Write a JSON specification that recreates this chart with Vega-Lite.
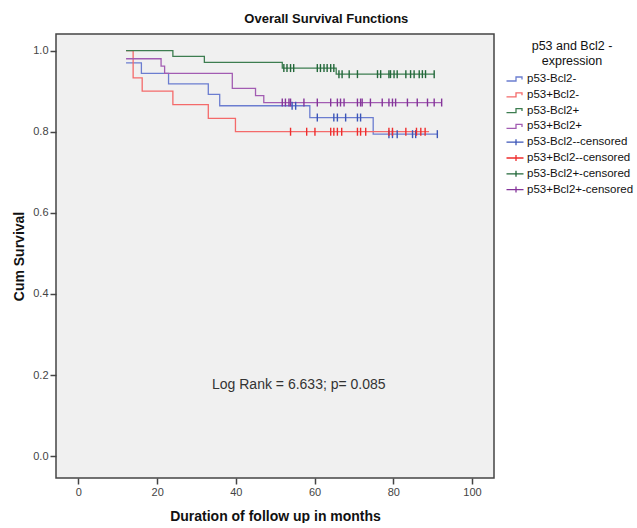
{
  "$schema": "https://vega.github.io/schema/vega-lite/v6.json",
  "width": 438,
  "height": 444,
  "padding": {"left": 12, "top": 13, "right": 0, "bottom": 0},
  "background": "white",
  "title": {"text": "Overall Survival Functions", "font": "Liberation Sans", "fontWeight": "bold", "fontSize": 13, "anchor": "middle", "frame": "bounds", "offset": 8, "color": "#111"},
  "config": {
    "view": {"fill": "#f0f0f0", "stroke": "#444", "strokeWidth": 1.5},
    "axis": {"grid": false, "domain": false, "tickColor": "#444", "tickSize": 6, "tickWidth": 1.5, "labelFont": "Liberation Sans", "labelFontSize": 11, "labelColor": "#444", "labelPadding": 2, "titleFont": "Liberation Sans", "titleFontWeight": "bold", "titleFontSize": 14, "titleColor": "#111"},
    "legend": {"labelFont": "Liberation Sans", "labelFontSize": 11.5, "labelColor": "#111", "titleFont": "Liberation Sans", "titleFontSize": 12.5, "titleFontWeight": "normal", "titleColor": "#111"}
  },
  "datasets": {
    "curves": [
      {"series": "p53-Bcl2-", "t": 12.1, "s": 0.970},
      {"series": "p53-Bcl2-", "t": 16.0, "s": 0.944},
      {"series": "p53-Bcl2-", "t": 22.9, "s": 0.918},
      {"series": "p53-Bcl2-", "t": 33.0, "s": 0.892},
      {"series": "p53-Bcl2-", "t": 35.9, "s": 0.864},
      {"series": "p53-Bcl2-", "t": 58.8, "s": 0.835},
      {"series": "p53-Bcl2-", "t": 74.9, "s": 0.794},
      {"series": "p53-Bcl2-", "t": 91.2, "s": 0.794},
      {"series": "p53+Bcl2-", "t": 12.1, "s": 1.0},
      {"series": "p53+Bcl2-", "t": 13.9, "s": 0.933},
      {"series": "p53+Bcl2-", "t": 16.2, "s": 0.900},
      {"series": "p53+Bcl2-", "t": 24.0, "s": 0.867},
      {"series": "p53+Bcl2-", "t": 33.0, "s": 0.833},
      {"series": "p53+Bcl2-", "t": 39.9, "s": 0.800},
      {"series": "p53+Bcl2-", "t": 89.1, "s": 0.800},
      {"series": "p53-Bcl2+", "t": 12.1, "s": 1.0},
      {"series": "p53-Bcl2+", "t": 24.0, "s": 0.986},
      {"series": "p53-Bcl2+", "t": 32.0, "s": 0.971},
      {"series": "p53-Bcl2+", "t": 51.8, "s": 0.957},
      {"series": "p53-Bcl2+", "t": 65.5, "s": 0.942},
      {"series": "p53-Bcl2+", "t": 90.4, "s": 0.942},
      {"series": "p53+Bcl2+", "t": 12.1, "s": 0.980},
      {"series": "p53+Bcl2+", "t": 21.0, "s": 0.962},
      {"series": "p53+Bcl2+", "t": 21.9, "s": 0.944},
      {"series": "p53+Bcl2+", "t": 39.1, "s": 0.907},
      {"series": "p53+Bcl2+", "t": 45.0, "s": 0.889},
      {"series": "p53+Bcl2+", "t": 47.1, "s": 0.872},
      {"series": "p53+Bcl2+", "t": 92.3, "s": 0.872}
    ],
    "cens": [
      {"series": "p53-Bcl2+-censored", "t": 52.2, "s": 0.957},
      {"series": "p53-Bcl2+-censored", "t": 53.0, "s": 0.957},
      {"series": "p53-Bcl2+-censored", "t": 53.9, "s": 0.957},
      {"series": "p53-Bcl2+-censored", "t": 54.7, "s": 0.957},
      {"series": "p53-Bcl2+-censored", "t": 60.7, "s": 0.957},
      {"series": "p53-Bcl2+-censored", "t": 61.5, "s": 0.957},
      {"series": "p53-Bcl2+-censored", "t": 62.4, "s": 0.957},
      {"series": "p53-Bcl2+-censored", "t": 63.2, "s": 0.957},
      {"series": "p53-Bcl2+-censored", "t": 64.1, "s": 0.957},
      {"series": "p53-Bcl2+-censored", "t": 64.9, "s": 0.957},
      {"series": "p53-Bcl2+-censored", "t": 66.2, "s": 0.942},
      {"series": "p53-Bcl2+-censored", "t": 67.0, "s": 0.942},
      {"series": "p53-Bcl2+-censored", "t": 68.8, "s": 0.942},
      {"series": "p53-Bcl2+-censored", "t": 70.9, "s": 0.942},
      {"series": "p53-Bcl2+-censored", "t": 76.0, "s": 0.942},
      {"series": "p53-Bcl2+-censored", "t": 76.8, "s": 0.942},
      {"series": "p53-Bcl2+-censored", "t": 78.9, "s": 0.942},
      {"series": "p53-Bcl2+-censored", "t": 79.3, "s": 0.942},
      {"series": "p53-Bcl2+-censored", "t": 80.2, "s": 0.942},
      {"series": "p53-Bcl2+-censored", "t": 81.0, "s": 0.942},
      {"series": "p53-Bcl2+-censored", "t": 83.2, "s": 0.942},
      {"series": "p53-Bcl2+-censored", "t": 84.4, "s": 0.942},
      {"series": "p53-Bcl2+-censored", "t": 85.3, "s": 0.942},
      {"series": "p53-Bcl2+-censored", "t": 86.6, "s": 0.942},
      {"series": "p53-Bcl2+-censored", "t": 87.4, "s": 0.942},
      {"series": "p53-Bcl2+-censored", "t": 88.2, "s": 0.942},
      {"series": "p53-Bcl2+-censored", "t": 90.4, "s": 0.942},
      {"series": "p53+Bcl2+-censored", "t": 51.8, "s": 0.872},
      {"series": "p53+Bcl2+-censored", "t": 52.6, "s": 0.872},
      {"series": "p53+Bcl2+-censored", "t": 53.5, "s": 0.872},
      {"series": "p53+Bcl2+-censored", "t": 53.9, "s": 0.872},
      {"series": "p53+Bcl2+-censored", "t": 57.3, "s": 0.872},
      {"series": "p53+Bcl2+-censored", "t": 60.7, "s": 0.872},
      {"series": "p53+Bcl2+-censored", "t": 64.1, "s": 0.872},
      {"series": "p53+Bcl2+-censored", "t": 65.8, "s": 0.872},
      {"series": "p53+Bcl2+-censored", "t": 66.6, "s": 0.872},
      {"series": "p53+Bcl2+-censored", "t": 67.5, "s": 0.872},
      {"series": "p53+Bcl2+-censored", "t": 70.9, "s": 0.872},
      {"series": "p53+Bcl2+-censored", "t": 71.7, "s": 0.872},
      {"series": "p53+Bcl2+-censored", "t": 72.1, "s": 0.872},
      {"series": "p53+Bcl2+-censored", "t": 74.2, "s": 0.872},
      {"series": "p53+Bcl2+-censored", "t": 77.2, "s": 0.872},
      {"series": "p53+Bcl2+-censored", "t": 78.9, "s": 0.872},
      {"series": "p53+Bcl2+-censored", "t": 79.8, "s": 0.872},
      {"series": "p53+Bcl2+-censored", "t": 80.6, "s": 0.872},
      {"series": "p53+Bcl2+-censored", "t": 83.6, "s": 0.872},
      {"series": "p53+Bcl2+-censored", "t": 86.1, "s": 0.872},
      {"series": "p53+Bcl2+-censored", "t": 88.7, "s": 0.872},
      {"series": "p53+Bcl2+-censored", "t": 90.4, "s": 0.872},
      {"series": "p53+Bcl2+-censored", "t": 92.3, "s": 0.872},
      {"series": "p53-Bcl2--censored", "t": 54.3, "s": 0.864},
      {"series": "p53-Bcl2--censored", "t": 55.2, "s": 0.864},
      {"series": "p53-Bcl2--censored", "t": 60.7, "s": 0.835},
      {"series": "p53-Bcl2--censored", "t": 64.9, "s": 0.835},
      {"series": "p53-Bcl2--censored", "t": 65.8, "s": 0.835},
      {"series": "p53-Bcl2--censored", "t": 67.9, "s": 0.835},
      {"series": "p53-Bcl2--censored", "t": 70.9, "s": 0.835},
      {"series": "p53-Bcl2--censored", "t": 71.7, "s": 0.835},
      {"series": "p53-Bcl2--censored", "t": 78.9, "s": 0.794},
      {"series": "p53-Bcl2--censored", "t": 79.8, "s": 0.794},
      {"series": "p53-Bcl2--censored", "t": 81.0, "s": 0.794},
      {"series": "p53-Bcl2--censored", "t": 84.9, "s": 0.794},
      {"series": "p53-Bcl2--censored", "t": 85.7, "s": 0.794},
      {"series": "p53-Bcl2--censored", "t": 91.2, "s": 0.794},
      {"series": "p53+Bcl2--censored", "t": 53.9, "s": 0.800},
      {"series": "p53+Bcl2--censored", "t": 58.0, "s": 0.800},
      {"series": "p53+Bcl2--censored", "t": 60.1, "s": 0.800},
      {"series": "p53+Bcl2--censored", "t": 64.1, "s": 0.800},
      {"series": "p53+Bcl2--censored", "t": 64.9, "s": 0.800},
      {"series": "p53+Bcl2--censored", "t": 65.8, "s": 0.800},
      {"series": "p53+Bcl2--censored", "t": 66.9, "s": 0.800},
      {"series": "p53+Bcl2--censored", "t": 70.9, "s": 0.800},
      {"series": "p53+Bcl2--censored", "t": 71.7, "s": 0.800},
      {"series": "p53+Bcl2--censored", "t": 73.0, "s": 0.800},
      {"series": "p53+Bcl2--censored", "t": 78.9, "s": 0.800},
      {"series": "p53+Bcl2--censored", "t": 79.8, "s": 0.800},
      {"series": "p53+Bcl2--censored", "t": 83.2, "s": 0.800},
      {"series": "p53+Bcl2--censored", "t": 85.9, "s": 0.800},
      {"series": "p53+Bcl2--censored", "t": 87.0, "s": 0.800},
      {"series": "p53+Bcl2--censored", "t": 88.1, "s": 0.800}
    ],
    "note": [
      {"label": "Log Rank = 6.633; p= 0.085", "t": 56, "s": 0.175}
    ]
  },
  "layer": [
    {"data": {"name": "curves"}, "mark": {"type": "line", "interpolate": "step-after", "strokeWidth": 1.3},
      "encoding": {
        "x": {"field": "t", "type": "quantitative", "scale": {"domain": [-5.7, 105.6], "nice": false, "zero": false}, "axis": {"values": [0, 20, 40, 60, 80, 100], "title": "Duration of follow up in months", "titlePadding": 12, "labelPadding": 2}},
        "y": {"field": "s", "type": "quantitative", "scale": {"domain": [-0.054, 1.041], "nice": false, "zero": false}, "axis": {"values": [0, 0.2, 0.4, 0.6, 0.8, 1.0], "format": ".1f", "title": "Cum Survival", "titlePadding": 6}},
        "color": {"field": "series", "type": "nominal",
          "scale": {"domain": ["p53-Bcl2-", "p53+Bcl2-", "p53-Bcl2+", "p53+Bcl2+", "p53-Bcl2--censored", "p53+Bcl2--censored", "p53-Bcl2+-censored", "p53+Bcl2+-censored"],
            "range": ["#6b7dd0", "#f46a6a", "#3d7d50", "#a25cb2", "#3c56b8", "#ee2d2d", "#23683a", "#85359a"]},
          "legend": {"title": ["p53 and Bcl2 -", "expression"], "titleAlign": "center", "titleAnchor": "middle", "offset": 10, "padding": 6, "symbolSize": 100, "symbolStrokeWidth": 1.3, "labelOffset": 5, "rowPadding": 3.8, "titlePadding": 6,
            "encode": {"symbols": {"update": {"shape": {"signal": "indexof(datum.value, 'censored') >= 0 ? 'M-1.9,0L1.5,0M0,-0.6L0,0.6' : 'M-1.9,0.4L0,0.4L0,-0.4L1.2,-0.4L1.2,0.1'"}, "fill": {"value": "transparent"}, "strokeWidth": {"value": 1.3}}}}}
        },
        "detail": {"field": "series"}
      }},
    {"data": {"name": "cens"}, "mark": {"type": "point", "shape": "M0,-1L0,1", "filled": false, "size": 64, "strokeWidth": 1.4, "opacity": 1},
      "encoding": {
        "x": {"field": "t", "type": "quantitative"},
        "y": {"field": "s", "type": "quantitative"},
        "color": {"field": "series", "type": "nominal"}
      }},
    {"data": {"name": "note"}, "mark": {"type": "text", "font": "Liberation Sans", "fontSize": 14, "color": "#333"},
      "encoding": {
        "x": {"field": "t", "type": "quantitative"},
        "y": {"field": "s", "type": "quantitative"},
        "text": {"field": "label"}
      }}
  ]
}
